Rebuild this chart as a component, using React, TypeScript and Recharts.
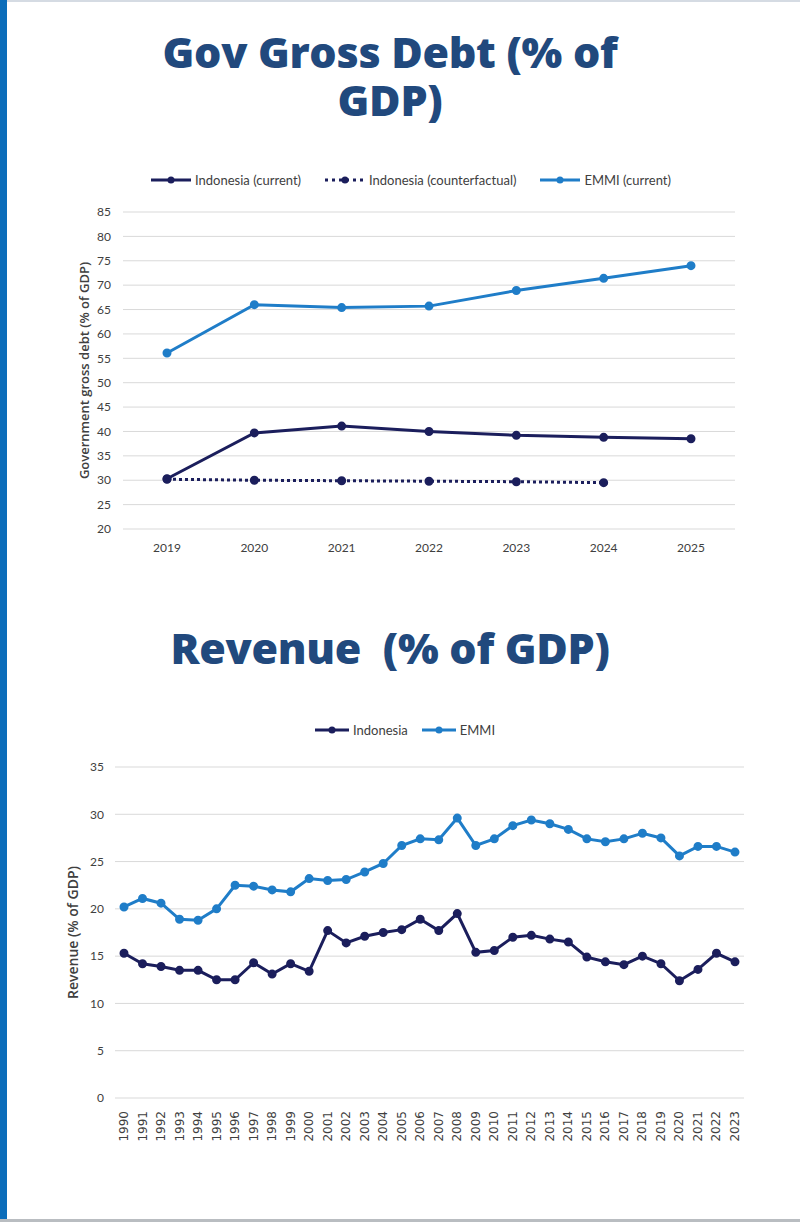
import { LineChart, Line, XAxis, YAxis, CartesianGrid, Legend } from 'recharts';

const debtYears = ['2019', '2020', '2021', '2022', '2023', '2024', '2025'];
const debtIndonesia = [30.3, 39.7, 41.1, 40.0, 39.2, 38.8, 38.5];
const debtCounterfactual = [30.2, 30.0, 29.9, 29.8, 29.7, 29.5, null];
const debtEmmi = [56.1, 66.0, 65.4, 65.7, 68.9, 71.4, 74.0];
const debtTicks = [20, 25, 30, 35, 40, 45, 50, 55, 60, 65, 70, 75, 80, 85];

const revenueYears = [
  '1990', '1991', '1992', '1993', '1994', '1995', '1996', '1997', '1998', '1999',
  '2000', '2001', '2002', '2003', '2004', '2005', '2006', '2007', '2008', '2009',
  '2010', '2011', '2012', '2013', '2014', '2015', '2016', '2017', '2018', '2019',
  '2020', '2021', '2022', '2023',
];
const revenueIndonesia = [
  15.3, 14.2, 13.9, 13.5, 13.5, 12.5, 12.5, 14.3, 13.1, 14.2,
  13.4, 17.7, 16.4, 17.1, 17.5, 17.8, 18.9, 17.7, 19.5, 15.4,
  15.6, 17.0, 17.2, 16.8, 16.5, 14.9, 14.4, 14.1, 15.0, 14.2,
  12.4, 13.6, 15.3, 14.4,
];
const revenueEmmi = [
  20.2, 21.1, 20.6, 18.9, 18.8, 20.0, 22.5, 22.4, 22.0, 21.8,
  23.2, 23.0, 23.1, 23.9, 24.8, 26.7, 27.4, 27.3, 29.6, 26.7,
  27.4, 28.8, 29.4, 29.0, 28.4, 27.4, 27.1, 27.4, 28.0, 27.5,
  25.6, 26.6, 26.6, 26.0,
];
const revenueTicks = [0, 5, 10, 15, 20, 25, 30, 35];

const NAVY = '#1b1e5c';
const BLUE = '#1f7dc8';
const TITLE = '#21497d';
const FONT = "Lato, 'Liberation Sans', sans-serif";
const LABEL_FONT = "'Open Sans', sans-serif";

const debtData = debtYears.map((year, i) => ({
  year,
  current: debtIndonesia[i],
  counterfactual: debtCounterfactual[i],
  emmi: debtEmmi[i],
}));

const revenueData = revenueYears.map((year, i) => ({
  year,
  indonesia: revenueIndonesia[i],
  emmi: revenueEmmi[i],
}));

const debtLegend = [
  { name: 'Indonesia (current)', color: NAVY, dotted: false },
  { name: 'Indonesia (counterfactual)', color: NAVY, dotted: true },
  { name: 'EMMI (current)', color: BLUE, dotted: false },
];
const revenueLegend = [
  { name: 'Indonesia', color: NAVY, dotted: false },
  { name: 'EMMI', color: BLUE, dotted: false },
];

type LegendItem = { name: string; color: string; dotted: boolean };

const LegendRow = ({ items, shift, iconWidth, gap }: { items: LegendItem[]; shift: number; iconWidth: number; gap: number }) => (
  <div
    style={{
      display: 'flex',
      justifyContent: 'center',
      alignItems: 'center',
      gap,
      paddingLeft: shift,
      fontFamily: FONT,
      fontSize: 13,
      color: '#404040',
    }}
  >
    {items.map((item) => (
      <div key={item.name} style={{ display: 'flex', alignItems: 'center', gap: 4 }}>
        <svg width={iconWidth} height={10}>
          <line
            x1={0}
            y1={5}
            x2={iconWidth}
            y2={5}
            stroke={item.color}
            strokeWidth={3}
            strokeDasharray={item.dotted ? '3 4' : undefined}
          />
          <circle cx={iconWidth / 2} cy={5} r={3.5} fill={item.color} />
        </svg>
        <span>{item.name}</span>
      </div>
    ))}
  </div>
);

const RotatedTick = (props: any) => {
  const { x, y, payload } = props;
  return (
    <text
      x={0}
      y={0}
      transform={`translate(${x},${y + 5}) rotate(-90)`}
      textAnchor="end"
      dominantBaseline="central"
      fontSize={12}
      fontFamily="'DejaVu Sans', sans-serif"
      fill="#404040"
    >
      {payload.value}
    </text>
  );
};

const titleStyle: React.CSSProperties = {
  position: 'absolute',
  left: 0,
  width: 780,
  textAlign: 'center',
  color: TITLE,
  fontFamily: "'Open Sans', sans-serif",
  fontWeight: 800,
  fontSize: 43,
  lineHeight: '48px',
  letterSpacing: -0.3,
};

export default function App() {
  return (
    <div
      style={{
        position: 'absolute',
        left: 0,
        top: 0,
        width: 800,
        height: 1222,
        background: '#fff',
        overflow: 'hidden',
      }}
    >
      <div style={{ position: 'absolute', left: 0, top: 0, width: 7, height: 1222, background: '#0b6dba' }} />
      <div style={{ position: 'absolute', left: 7, top: 0, right: 0, height: 2, background: '#d5dbe3' }} />
      <div style={{ position: 'absolute', left: 0, top: 1219, right: 0, height: 3, background: '#b9bdc1' }} />

      <div style={{ ...titleStyle, top: 28 }}>
        Gov Gross Debt (% of
        <br />
        GDP)
      </div>

      <div style={{ position: 'absolute', left: 0, top: 160 }}>
        <LineChart width={800} height={400} data={debtData} margin={{ top: 12, right: 65, left: 71, bottom: 1 }}>
          <CartesianGrid vertical={false} stroke="#d9d9d9" />
          <XAxis
            dataKey="year"
            axisLine={false}
            tickLine={false}
            padding={{ left: 44, right: 44 }}
            height={30}
            tickMargin={8}
            tick={{ fontSize: 12, fontFamily: FONT, fill: '#404040' }}
          />
          <YAxis
            domain={[20, 85]}
            ticks={debtTicks}
            interval={0}
            axisLine={false}
            tickLine={false}
            width={52}
            tickMargin={6}
            tick={{ fontSize: 12, fontFamily: FONT, fill: '#404040' }}
            label={{
              value: 'Government gross debt (% of GDP)',
              angle: -90,
              position: 'insideLeft',
              offset: 13,
              style: { textAnchor: 'middle', fontSize: 13, fontFamily: LABEL_FONT, fontWeight: 600, fill: '#404040' },
            }}
          />
          <Legend
            verticalAlign="top"
            height={40}
            wrapperStyle={{ left: 0, width: 800 }}
            content={() => <LegendRow items={debtLegend} shift={22} iconWidth={40} gap={24} />}
          />
          <Line
            dataKey="emmi"
            name="EMMI (current)"
            stroke={BLUE}
            strokeWidth={3}
            dot={{ r: 3, fill: BLUE, stroke: BLUE }}
            isAnimationActive={false}
          />
          <Line
            dataKey="current"
            name="Indonesia (current)"
            stroke={NAVY}
            strokeWidth={3}
            dot={{ r: 3, fill: NAVY, stroke: NAVY }}
            isAnimationActive={false}
          />
          <Line
            dataKey="counterfactual"
            name="Indonesia (counterfactual)"
            stroke={NAVY}
            strokeWidth={3}
            strokeDasharray="3 3"
            dot={{ r: 3, fill: NAVY, stroke: NAVY, strokeDasharray: '' }}
            isAnimationActive={false}
          />
        </LineChart>
      </div>

      <div style={{ ...titleStyle, top: 624 }}>Revenue&nbsp; (% of GDP)</div>

      <div style={{ position: 'absolute', left: 0, top: 710 }}>
        <LineChart width={800} height={442} data={revenueData} margin={{ top: 12, right: 56, left: 63, bottom: 4 }}>
          <CartesianGrid vertical={false} stroke="#d9d9d9" />
          <XAxis
            dataKey="year"
            axisLine={false}
            tickLine={false}
            interval={0}
            padding={{ left: 9, right: 9 }}
            height={50}
            tick={<RotatedTick />}
          />
          <YAxis
            domain={[0, 35]}
            ticks={revenueTicks}
            interval={0}
            axisLine={false}
            tickLine={false}
            width={52}
            tickMargin={5}
            tick={{ fontSize: 12, fontFamily: FONT, fill: '#404040' }}
            label={{
              value: 'Revenue (% of GDP)',
              angle: -90,
              position: 'insideLeft',
              offset: 10,
              style: { textAnchor: 'middle', fontSize: 14, fontFamily: LABEL_FONT, fontWeight: 600, fill: '#404040' },
            }}
          />
          <Legend
            verticalAlign="top"
            height={45}
            wrapperStyle={{ left: 0, width: 800 }}
            content={() => <LegendRow items={revenueLegend} shift={10} iconWidth={34} gap={14} />}
          />
          <Line
            dataKey="indonesia"
            name="Indonesia"
            stroke={NAVY}
            strokeWidth={3}
            dot={{ r: 3, fill: NAVY, stroke: NAVY }}
            isAnimationActive={false}
          />
          <Line
            dataKey="emmi"
            name="EMMI"
            stroke={BLUE}
            strokeWidth={3}
            dot={{ r: 3, fill: BLUE, stroke: BLUE }}
            isAnimationActive={false}
          />
        </LineChart>
      </div>
    </div>
  );
}
